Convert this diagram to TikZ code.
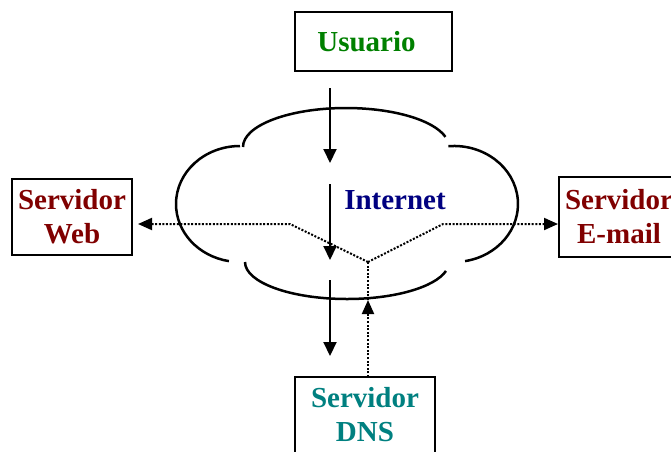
\documentclass[tikz,border=0pt]{standalone}
\usepackage{fontspec}
\setmainfont{Liberation Serif}
\usetikzlibrary{arrows.meta}
\definecolor{usergreen}{RGB}{0,128,0}
\definecolor{srvred}{RGB}{128,0,0}
\definecolor{netblue}{RGB}{0,0,128}
\definecolor{dnsteal}{RGB}{0,128,128}
\begin{document}
\begin{tikzpicture}[x=1pt,y=-1pt,
  box/.style={draw,line width=2.5pt,font=\fontsize{29}{34}\selectfont\bfseries,align=center,inner sep=0pt},
  solidarrow/.style={line width=2pt,-{Triangle[width=13pt,length=14pt]}},
  dotline/.style={line width=2pt,dash pattern=on 2pt off 1.6pt},
  dotarrow/.style={dotline,-{Triangle[width=12pt,length=14pt]}},
  cloudline/.style={line width=2.5pt}]
\useasboundingbox (0,0) rectangle (671,451);
\clip (0,0) rectangle (671,451);
% nodes
\node[box,text=usergreen,minimum width=157,minimum height=59] (user) at (373.5,41.5) {\hspace*{-14pt}Usuario};
\node[box,text=srvred,minimum width=120,minimum height=76] (web) at (72,217) {Servidor\\Web};
\node[box,text=srvred,minimum width=120,minimum height=80] (mail) at (619,217) {Servidor\\E-mail};
\node[box,text=dnsteal,minimum width=140,minimum height=76] (dns) at (365,415) {Servidor\\DNS};
\node[font=\fontsize{29}{34}\selectfont\bfseries,text=netblue,inner sep=0pt] (net) at (395,200) {Internet};
% cloud
\draw[cloudline] (240,146) arc[start angle=270,end angle=100,x radius=64,y radius=58];
\draw[cloudline] (448.4,146.2) arc[start angle=-95,end angle=80,x radius=64,y radius=58];
\draw[cloudline] (243,147) arc[start angle=180,end angle=345,x radius=103,y radius=39];
\draw[cloudline] (245,262) arc[start angle=180,end angle=14,x radius=102,y radius=37];
% coordinates
\coordinate (a1s) at (330,88);
\coordinate (a1e) at (330,163);
\coordinate (a2s) at (330,184);
\coordinate (a2e) at (330,260);
\coordinate (a3s) at (330,280);
\coordinate (a3e) at (330,356);
\coordinate (J) at (368,262);
\coordinate (L) at (290,224);
\coordinate (R) at (443,224);
\coordinate (M) at (368,300);
\coordinate (webtip) at (138,224);
\coordinate (mailtip) at (558,224);
\coordinate (dnstop) at (368,377);
% solid arrows
\draw[solidarrow] (a1s) -- (a1e);
\draw[solidarrow] (a2s) -- (a2e);
\draw[solidarrow] (a3s) -- (a3e);
% dotted connectors
\draw[dotarrow] (J) -- (L) -- (webtip);
\draw[dotarrow] (J) -- (R) -- (mailtip);
\draw[dotarrow] (dnstop) -- (M);
\draw[dotline] (M) -- (J);
\end{tikzpicture}
\end{document}
